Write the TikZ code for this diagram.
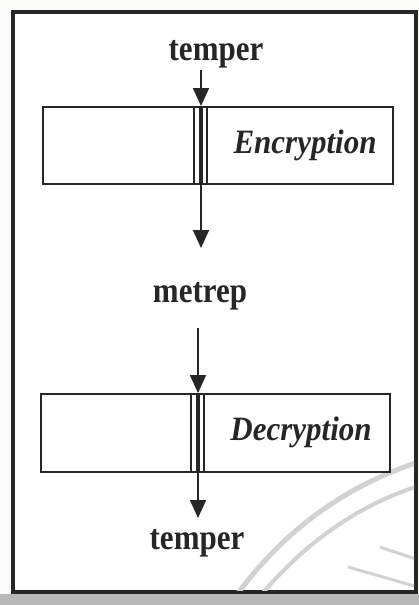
\documentclass[tikz,border=0pt]{standalone}
\usepackage{fontspec}
\setmainfont{Liberation Serif}
\usetikzlibrary{arrows.meta}
\definecolor{ink}{HTML}{262626}
\definecolor{paper}{HTML}{FBFBFA}
\definecolor{margin}{HTML}{B8B8B8}
\definecolor{seethru}{HTML}{D2D2D2}
\newcommand{\tallword}[1]{\scalebox{1}[1.15]{#1}}
\newcommand{\tallstage}[1]{\scalebox{1}[1.1]{#1}}
\tikzset{
  word/.style={font=\fontsize{31}{31}\selectfont\bfseries, text=ink, inner sep=0pt, anchor=base},
  stage/.style={font=\fontsize{31}{31}\selectfont\bfseries\itshape, text=ink, inner sep=0pt, anchor=base},
  block/.style={draw=ink, line width=1.8pt, fill=none},
  flow/.style={draw=ink, line width=1.7pt, -{Triangle[length=18pt,width=16pt]}},
  thinrail/.style={draw=ink, line width=1.2pt},
  mainrail/.style={draw=ink, line width=3.8pt},
  ghost/.style={draw=seethru},
}
\begin{document}
\begin{tikzpicture}[x=1pt,y=-1pt]
  % page and frame
  \fill[margin] (0,0) rectangle (419,605);
  \fill[paper] (0,0) rectangle (419,594);
  \useasboundingbox (0,0) rectangle (419,605);
  \draw[ink, line width=3.5pt, fill=white] (13,12) rectangle (416,592);

  % faint arcs printed through from the other side of the sheet
  \begin{scope}
    \clip (15,14) rectangle (414,590);
    \draw[ghost, line width=5pt] (233,600) .. controls (290,520) and (360,480) .. (425,460);
    \draw[ghost, line width=4pt] (257,600) .. controls (310,535) and (370,500) .. (425,484);
    \draw[ghost, line width=3pt] (380,547) -- (425,562);
    \draw[ghost, line width=3pt] (348,567) -- (425,589);
  \end{scope}

  % texts
  \node[word] (in) at (216,60) {\tallword{temper}};
  \node[word] (mid) at (200,302) {\tallword{metrep}};
  \node[word] (out) at (197,549) {\tallword{temper}};

  % encryption stage
  \node[block, minimum width=350pt, minimum height=77pt, anchor=north west] (enc) at (42,106) {};
  \node[stage] (enclab) at (305,153) {\tallstage{Encryption}};
  \coordinate (encx) at (201,106);
  \draw[thinrail] ([xshift=-7pt]encx) -- ++(0,79);
  \draw[thinrail] ([xshift=6pt]encx) -- ++(0,79);
  \draw[mainrail] (encx) -- ++(0,77);

  % decryption stage
  \node[block, minimum width=349pt, minimum height=78pt, anchor=north west] (dec) at (40,393) {};
  \node[stage] (declab) at (301,440) {\tallstage{Decryption}};
  \coordinate (decx) at (198,393);
  \draw[thinrail] ([xshift=-7pt]decx) -- ++(0,80);
  \draw[thinrail] ([xshift=6pt]decx) -- ++(0,80);
  \draw[mainrail] (decx) -- ++(0,78);

  % arrows
  \coordinate (a1) at (201,70);
  \draw[flow] (a1) -- (encx);
  \coordinate (a2) at (201,183);
  \coordinate (a2e) at (201,248);
  \draw[flow] (a2) -- (a2e);
  \coordinate (a3) at (198,328);
  \draw[flow] (a3) -- (decx);
  \coordinate (a4) at (198,471);
  \coordinate (a4e) at (198,518);
  \draw[flow] (a4) -- (a4e);
\end{tikzpicture}
\end{document}
